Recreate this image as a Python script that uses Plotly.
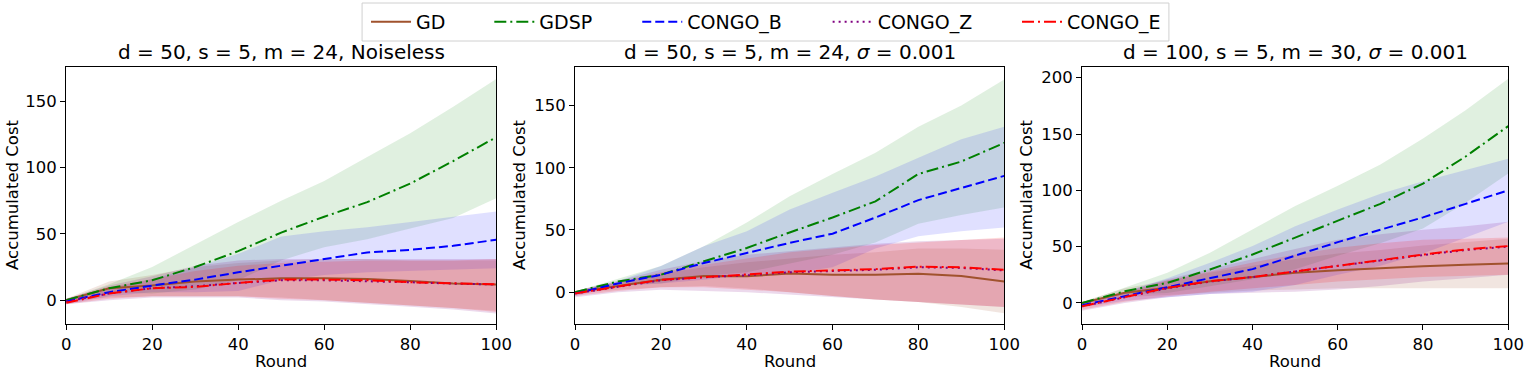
import plotly.graph_objects as go

W, H = 1540, 371
FONT = "DejaVu Sans"

ROUNDS = [0, 10, 20, 30, 40, 50, 60, 70, 80, 90, 100]
SERIES = ["GD", "GDSP", "CONGO_B", "CONGO_Z", "CONGO_E"]
COLORS = ["#a0522d", "#008000", "#0000ff", "#800080", "#ff0000"]
FILLS = ["rgba(160,82,45,0.15)", "rgba(0,128,0,0.12)", "rgba(0,0,255,0.12)",
         "rgba(128,0,128,0.15)", "rgba(255,0,0,0.15)"]
DASHES = ["solid", "12px,4px,2px,4px", "9px,4px", "2px,4px", "12px,4px,2px,4px"]

TITLES = ["d = 50, s = 5, m = 24, Noiseless",
          "d = 50, s = 5, m = 24, <i>σ</i> = 0.001",
          "d = 100, s = 5, m = 30, <i>σ</i> = 0.001"]
Y_RANGES = [[-18, 176], [-25.6, 181], [-18.7, 209.5]]
Y_TICKS = [[0, 50, 100, 150], [0, 50, 100, 150], [0, 50, 100, 150, 200]]
X_TICKS = [0, 20, 40, 60, 80, 100]

# ---------- Panel 1: d=50, s=5, m=24, Noiseless ----------
P1_GD_MEAN = [0, 9, 11, 14, 15.5, 16.5, 16.5, 16, 14.5, 12.5, 11.8]
P1_GD_LO = [-1, 2, 3, 3, 3, 2, 0, -2, -4, -6, -8]
P1_GD_HI = [1, 14, 19, 25, 28, 30, 31, 31, 30, 30, 30]
P1_GDSP_MEAN = [0, 9, 15, 25, 37, 51, 63, 74, 88, 105, 123]
P1_GDSP_LO = [-0.5, 6, 5, 8, 15, 30, 40, 46, 54, 62, 77]
P1_GDSP_HI = [0.5, 12, 25, 42, 59, 75, 90, 108, 126, 146, 167]
P1_B_MEAN = [-1, 6, 11, 15.5, 21, 26, 31, 36, 38, 41, 45.6]
P1_B_LO = [-3, 3, 6, 6, 7, 15, 19, 21, 22, 23, 24]
P1_B_HI = [1, 9, 16, 25, 35, 48, 52, 55, 59, 63, 67]
P1_Z_MEAN = [-1, 5, 9, 10.5, 13, 15, 15, 14.5, 13.5, 12.5, 11.8]
P1_Z_LO = [-3, 0, 2, 2, 2, 0, -1, -3, -5, -7, -10]
P1_Z_HI = [1, 11, 18, 26, 30, 31, 31, 31, 31, 31, 31]
P1_E_MEAN = [-2, 5, 9, 10, 13, 15.5, 15.5, 15, 13.5, 12.5, 12]
P1_E_LO = [-3, 1, 3, 3, 3, 1, 0, -2, -4, -6, -9]
P1_E_HI = [1, 10, 16, 22, 26, 28, 29, 30, 30, 30, 31]

# ---------- Panel 2: d=50, s=5, m=24, sigma=0.001 ----------
P2_GD_MEAN = [0, 5, 10, 13, 12.7, 15, 14, 14, 14.8, 13, 8.6]
P2_GD_LO = [-1, 2, 4, 5, 3, 0, -3, -6, -8, -12, -17]
P2_GD_HI = [1, 8, 15, 20, 24, 27, 30, 32, 35, 35, 34]
P2_GDSP_MEAN = [0, 8.6, 14, 25, 35.5, 48, 60, 73, 95, 105, 120]
P2_GDSP_LO = [-0.5, 6, 7, 13, 16, 23, 30, 40, 55, 62, 68]
P2_GDSP_HI = [0.5, 11, 21, 37, 56, 77, 95, 112, 133, 150, 171]
P2_B_MEAN = [-1, 7, 14, 23.4, 31.5, 39.6, 47, 60, 74, 84, 93.5]
P2_B_LO = [-3, 5, 7, 10, 14, 15, 20, 35, 45, 49, 52]
P2_B_HI = [1, 9, 21, 37, 49, 66.5, 80, 93, 108, 123, 133]
P2_Z_MEAN = [-1, 4, 9.5, 12, 13.5, 16, 17, 18, 20, 19.5, 17.5]
P2_Z_LO = [-4, 0, 2, 1, 0, -2, -4, -6, -8, -10, -12]
P2_Z_HI = [1, 9, 18, 25, 30, 33, 36, 39, 41, 42, 43]
P2_E_MEAN = [-1, 4.6, 10, 12, 14, 16.5, 17.5, 18.5, 20.5, 20, 18]
P2_E_LO = [-3, 1, 4, 4, 2, 0, -3, -6, -8, -10, -12]
P2_E_HI = [1, 8, 16, 22, 27, 32, 35, 38, 40, 42, 44]

# ---------- Panel 3: d=100, s=5, m=30, sigma=0.001 ----------
P3_GD_MEAN = [0, 9, 13.4, 19.3, 23, 26.7, 29, 31, 32.5, 34, 35]
P3_GD_LO = [-1, 5, 7, 9, 11, 12, 13, 13, 13, 13, 13]
P3_GD_HI = [1, 13, 20, 27, 33, 39, 44, 47, 51, 54, 57]
P3_GDSP_MEAN = [0, 10.4, 17.8, 29.7, 43, 58, 73, 88, 106, 130, 157]
P3_GDSP_LO = [-0.5, 7.4, 8.9, 14.8, 21, 30, 42, 53, 66, 89, 115]
P3_GDSP_HI = [0.5, 13.4, 26.7, 44.6, 65, 86, 104, 123, 146, 171, 199]
P3_B_MEAN = [-2, 6, 13.4, 22, 30, 42, 54, 65, 76, 88, 100]
P3_B_LO = [-4, 2, 5, 8, 10, 16, 25, 33, 44, 58, 72]
P3_B_HI = [0, 10, 22, 35.7, 50.5, 68, 83, 97, 108, 118, 128]
P3_Z_MEAN = [-3, 5, 13, 19, 23, 28, 33, 38, 42.5, 47, 50]
P3_Z_LO = [-7, 0, 5, 8, 9, 10, 12, 15, 19, 22, 25]
P3_Z_HI = [0, 10, 21, 30, 39, 48, 56, 61, 65, 68, 72]
P3_E_MEAN = [-3, 5.3, 13.4, 19.3, 23, 28, 33, 38.6, 43, 47.5, 50.5]
P3_E_LO = [-6, 1, 6, 10, 13, 16, 19, 21, 23, 24, 25]
P3_E_HI = [0, 9, 20, 28, 36, 43, 49, 53, 56, 57, 58]

PANELS = [
    [(P1_GD_MEAN, P1_GD_LO, P1_GD_HI), (P1_GDSP_MEAN, P1_GDSP_LO, P1_GDSP_HI),
     (P1_B_MEAN, P1_B_LO, P1_B_HI), (P1_Z_MEAN, P1_Z_LO, P1_Z_HI), (P1_E_MEAN, P1_E_LO, P1_E_HI)],
    [(P2_GD_MEAN, P2_GD_LO, P2_GD_HI), (P2_GDSP_MEAN, P2_GDSP_LO, P2_GDSP_HI),
     (P2_B_MEAN, P2_B_LO, P2_B_HI), (P2_Z_MEAN, P2_Z_LO, P2_Z_HI), (P2_E_MEAN, P2_E_LO, P2_E_HI)],
    [(P3_GD_MEAN, P3_GD_LO, P3_GD_HI), (P3_GDSP_MEAN, P3_GDSP_LO, P3_GDSP_HI),
     (P3_B_MEAN, P3_B_LO, P3_B_HI), (P3_Z_MEAN, P3_Z_LO, P3_Z_HI), (P3_E_MEAN, P3_E_LO, P3_E_HI)],
]

# pixel layout (from top-left of the picture)
X_PIX = [(62, 498), (578, 1013), (1092, 1524)]
Y_PIX = (67, 324)
YTITLE_X = [8, 522, 1036]
LEGEND_BOX = (362, 3, 1180, 41)
LEGEND_ITEM_X = [367, 492, 642, 835, 1027]   # left end of each legend line sample
LEGEND_Y = 22

fig = go.Figure()
LEGEND_IDS = ["legend", "legend2", "legend3", "legend4", "legend5"]

for p, panel in enumerate(PANELS):
    xa = "x" if p == 0 else f"x{p+1}"
    ya = "y" if p == 0 else f"y{p+1}"
    for s, (mean, lo, hi) in enumerate(panel):
        fig.add_trace(go.Scatter(
            x=ROUNDS + ROUNDS[::-1], y=hi + lo[::-1], fill="toself",
            fillcolor=FILLS[s], line=dict(width=0), mode="lines",
            showlegend=False, hoverinfo="skip", xaxis=xa, yaxis=ya))
    for s, (mean, lo, hi) in enumerate(panel):
        fig.add_trace(go.Scatter(
            x=ROUNDS, y=mean, mode="lines", name=SERIES[s],
            line=dict(color=COLORS[s], width=2, dash=DASHES[s]),
            showlegend=(p == 0), legend=LEGEND_IDS[s], xaxis=xa, yaxis=ya))

layout = dict(
    width=W, height=H, margin=dict(l=0, r=0, t=0, b=0),
    paper_bgcolor="white", plot_bgcolor="white",
    font=dict(family=FONT, size=16.5, color="black"),
    showlegend=True,
)
for s, lid in enumerate(LEGEND_IDS):
    layout[lid] = dict(orientation="h", x=(LEGEND_ITEM_X[s] - 1) / W, xanchor="left",
                       y=1 - LEGEND_Y / H, yanchor="middle",
                       borderwidth=0, bgcolor="rgba(0,0,0,0)",
                       font=dict(family=FONT, size=19, color="black"), itemwidth=40)

annotations = []
for p in range(3):
    xs = "xaxis" if p == 0 else f"xaxis{p+1}"
    ys = "yaxis" if p == 0 else f"yaxis{p+1}"
    x0, x1 = X_PIX[p]
    axis_common = dict(showline=True, mirror=True, linecolor="black", linewidth=1,
                       ticks="outside", ticklen=5, tickwidth=1, tickcolor="black",
                       showgrid=False, zeroline=False,
                       tickfont=dict(family=FONT, size=16.5, color="black"))
    layout[xs] = dict(axis_common, domain=[x0 / W, x1 / W], range=[0, 100],
                      tickvals=X_TICKS, anchor="y" if p == 0 else f"y{p+1}")
    layout[ys] = dict(axis_common, domain=[1 - Y_PIX[1] / H, 1 - Y_PIX[0] / H],
                      range=Y_RANGES[p], tickvals=Y_TICKS[p],
                      anchor="x" if p == 0 else f"x{p+1}")
    cx = (x0 + x1) / 2
    annotations.append(dict(text=TITLES[p], x=cx / W, y=1 - 52 / H, xref="paper", yref="paper",
                            xanchor="center", yanchor="middle", showarrow=False,
                            font=dict(family=FONT, size=20, color="black")))
    annotations.append(dict(text="Round", x=cx / W, y=1 - 361 / H, xref="paper", yref="paper",
                            xanchor="center", yanchor="middle", showarrow=False,
                            font=dict(family=FONT, size=16.5, color="black")))
    annotations.append(dict(text="Accumulated Cost", x=YTITLE_X[p] / W, y=1 - 195 / H,
                            xref="paper", yref="paper", xanchor="center", yanchor="middle",
                            textangle=-90, showarrow=False,
                            font=dict(family=FONT, size=16.5, color="black")))
layout["annotations"] = annotations
bx0, by0, bx1, by1 = LEGEND_BOX
layout["shapes"] = [dict(type="rect", xref="paper", yref="paper",
                         x0=bx0 / W, x1=bx1 / W, y0=1 - by1 / H, y1=1 - by0 / H,
                         line=dict(color="#d0d0d0", width=1), fillcolor="white", layer="above")]
fig.update_layout(**layout)
fig.write_html("out.html", config={"displayModeBar": False},
               post_script="document.body.style.margin='0';")
